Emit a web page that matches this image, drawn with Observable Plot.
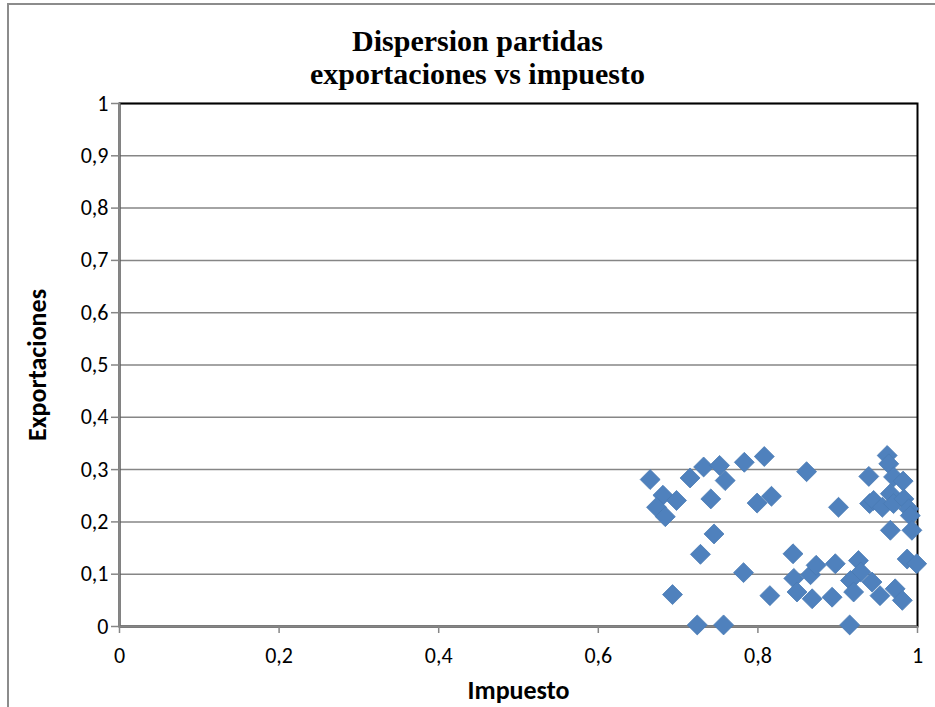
<!DOCTYPE html>
<html>
<head>
<meta charset="utf-8">
<script src="https://cdn.jsdelivr.net/npm/d3@7"></script>
<script src="https://cdn.jsdelivr.net/npm/@observablehq/plot@0.6"></script>
<style>
  html, body { margin: 0; padding: 0; background: #fff; }
  #wrap { position: relative; width: 935px; height: 707px; overflow: hidden; }
  #border { position: absolute; left: 7px; top: 3px; width: 940px; height: 740px; border: 2px solid #8c8c8c; box-sizing: border-box; }
  #chart { position: absolute; left: 0; top: 0; }
</style>
</head>
<body>
<div id="wrap"><div id="border"></div><div id="chart"></div></div>
<script>
const titleLines = ["Dispersion partidas", "exportaciones vs impuesto"];
const xLabel = "Impuesto";
const yLabel = "Exportaciones";
const xTicks = [0, 0.2, 0.4, 0.6, 0.8, 1];
const yTicks = [0, 0.1, 0.2, 0.3, 0.4, 0.5, 0.6, 0.7, 0.8, 0.9, 1];

// Impuesto (x) and Exportaciones (y)
const impuesto = [
  0.665, 0.715, 0.732, 0.752, 0.759, 0.681, 0.698, 0.673, 0.684, 0.741,
  0.745, 0.783, 0.808, 0.861, 0.799, 0.817, 0.728, 0.693, 0.782, 0.815,
  0.724, 0.757, 0.901, 0.962, 0.964, 0.939, 0.970, 0.982, 0.940, 0.945,
  0.956, 0.966, 0.970, 0.983, 0.989, 0.991, 0.966, 0.993, 0.844, 0.845,
  0.849, 0.866, 0.873, 0.868, 0.893, 0.897, 0.926, 0.929, 0.916, 0.920,
  0.943, 0.953, 0.972, 0.981, 0.987, 0.999, 0.915
];
const exportaciones = [
  0.281, 0.284, 0.305, 0.308, 0.279, 0.251, 0.241, 0.228, 0.210, 0.244,
  0.177, 0.314, 0.325, 0.296, 0.236, 0.249, 0.138, 0.061, 0.103, 0.059,
  0.003, 0.003, 0.228, 0.327, 0.311, 0.287, 0.286, 0.278, 0.235, 0.241,
  0.228, 0.254, 0.235, 0.244, 0.225, 0.212, 0.184, 0.184, 0.139, 0.092,
  0.066, 0.099, 0.117, 0.053, 0.056, 0.120, 0.126, 0.104, 0.088, 0.066,
  0.085, 0.059, 0.072, 0.050, 0.129, 0.120, 0.003
];
const points = impuesto.map((x, i) => ({x, y: exportaciones[i]}));

const fmt = d => String(+d.toFixed(1)).replace(".", ",");
const tickFont = "Carlito, Lato, 'Open Sans', sans-serif";
const serif = "'Liberation Serif', 'Times New Roman', serif";
const gray = "#868686";

const chart = Plot.plot({
  width: 935,
  height: 707,
  marginLeft: 119,
  marginRight: 18,
  marginTop: 103,
  marginBottom: 81,
  style: {fontFamily: tickFont, color: "#000", background: "transparent", overflow: "visible"},
  x: {domain: [0, 1]},
  y: {domain: [0, 1]},
  marks: [
    Plot.gridY(yTicks, {stroke: gray, strokeOpacity: 1, strokeWidth: 1.5}),
    Plot.frame({stroke: "#000", strokeWidth: 2}),
    Plot.ruleX([0], {stroke: gray, strokeWidth: 2}),
    Plot.ruleY([0], {stroke: gray, strokeWidth: 2}),
    Plot.axisY({ticks: yTicks, tickFormat: fmt, tickSize: 8, tickPadding: 3, stroke: gray, strokeOpacity: 1, strokeWidth: 1.5, fill: "#000", label: null}),
    Plot.axisX({ticks: xTicks, tickFormat: fmt, tickSize: 7, tickPadding: 14, stroke: gray, strokeOpacity: 1, strokeWidth: 1.5, fill: "#000", label: null}),
    Plot.dot(points, {x: "x", y: "y", symbol: "diamond2", r: 9, fill: "#4F81BD", stroke: "#4a7bb4", strokeWidth: 0.8}),
    Plot.text([titleLines[0]], {frameAnchor: "top", lineAnchor: "middle", dx: -41, dy: -62, fontFamily: serif, fontWeight: "bold", fontSize: 30, fill: "#000"}),
    Plot.text([titleLines[1]], {frameAnchor: "top", lineAnchor: "middle", dx: -41, dy: -29, fontFamily: serif, fontWeight: "bold", fontSize: 30, fill: "#000"}),
    Plot.text([xLabel], {frameAnchor: "bottom", textAnchor: "middle", lineAnchor: "middle", dy: 64, fontWeight: "bold", fontSize: 26, fill: "#000"}),
    Plot.text([yLabel], {frameAnchor: "left", textAnchor: "middle", lineAnchor: "middle", dx: -82, rotate: -90, fontWeight: "bold", fontSize: 26, fill: "#000"})
  ]
});
// enlarge tick labels (style only)
const tickTexts = new Set([...xTicks, ...yTicks].map(fmt));
d3.select(chart).selectAll("text").filter(function () { return tickTexts.has(this.textContent); })
  .style("font-size", "22px");
document.getElementById("chart").appendChild(chart);
</script>
</body>
</html>
